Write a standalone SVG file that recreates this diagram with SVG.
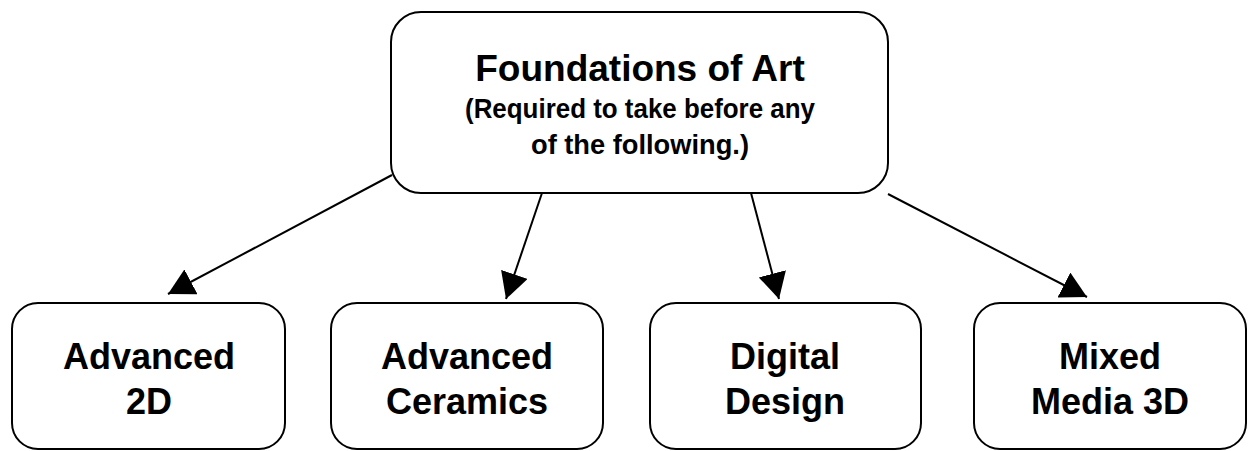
<svg xmlns="http://www.w3.org/2000/svg" width="1248" height="451" viewBox="0 0 1248 451">
<style>
.box{fill:#fff;stroke:#000;stroke-width:2}
.t{font-family:"Liberation Sans",Arial,sans-serif;font-weight:bold;fill:#000;text-anchor:middle}
.big{font-size:37px}
.mid{font-size:28px}
.lbl{font-size:36px}
.conn line{stroke:#000;stroke-width:2}
</style>
<defs>
<marker id="ah" viewBox="0 0 26 28" refX="26" refY="14" markerWidth="26" markerHeight="28" markerUnits="userSpaceOnUse" orient="auto">
<path d="M0,0 L26,14 L0,28 z" fill="#000"/>
</marker>
</defs>
<rect width="1248" height="451" fill="#fff"/>
<g id="connectors" class="conn">
<line x1="392" y1="175" x2="168" y2="294" marker-end="url(#ah)"/>
<line x1="542" y1="193" x2="506" y2="299" marker-end="url(#ah)"/>
<line x1="751" y1="193" x2="779" y2="299" marker-end="url(#ah)"/>
<line x1="888" y1="194" x2="1087" y2="297" marker-end="url(#ah)"/>
</g>
<g id="foundations">
<rect class="box" x="391" y="12" width="497" height="181" rx="30" ry="30"/>
<text class="t big" x="640" y="81">Foundations of Art</text>
<text class="t mid" x="640" y="118" textLength="350" lengthAdjust="spacingAndGlyphs">(Required to take before any</text>
<text class="t mid" x="640" y="154" textLength="218" lengthAdjust="spacingAndGlyphs">of the following.)</text>
</g>
<g id="advanced2d">
<rect class="box" x="12" y="303" width="273" height="146" rx="26" ry="26"/>
<text class="t lbl" x="149" y="369">Advanced</text>
<text class="t lbl" x="149" y="414">2D</text>
</g>
<g id="ceramics">
<rect class="box" x="331" y="303" width="272" height="146" rx="26" ry="26"/>
<text class="t lbl" x="467" y="369">Advanced</text>
<text class="t lbl" x="467" y="414">Ceramics</text>
</g>
<g id="digital">
<rect class="box" x="650" y="303" width="271" height="146" rx="26" ry="26"/>
<text class="t lbl" x="785" y="369">Digital</text>
<text class="t lbl" x="785" y="414">Design</text>
</g>
<g id="mixed">
<rect class="box" x="974" y="303" width="272" height="146" rx="26" ry="26"/>
<text class="t lbl" x="1110" y="369">Mixed</text>
<text class="t lbl" x="1110" y="414">Media 3D</text>
</g>
</svg>
